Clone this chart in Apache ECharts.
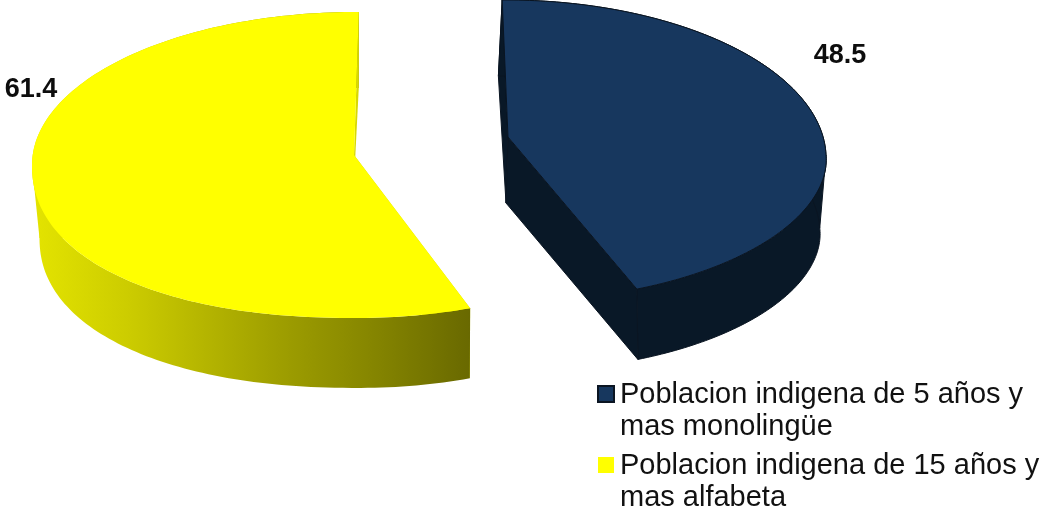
<!DOCTYPE html>
<html>
<head>
<meta charset="utf-8">
<style>html,body{margin:0;padding:0;background:#fff}#c{width:1046px;height:507px}</style>
<script src="https://cdn.jsdelivr.net/npm/echarts@6/dist/echarts.min.js"></script>
</head>
<body>
<div id="c"></div>
<script>
const categories = ['Poblacion indigena de 5 años y\nmas monolingüe', 'Poblacion indigena de 15 años y\nmas alfabeta'];
const values = [48.5, 61.4];
const topColors = ['#17375E', '#FFFF00'];

const total = values.reduce((a, b) => a + b, 0);
const geometry = [
  { cx: 513, rx: 313, cy: 155, ryT: 155, ryB: 145, shearT: 0.045, shearB: 0.1, rot: -0.7, apex: [508, 137], depth: 73, scale: 0.98,
    lowShear: 0.026, lowDx: 0, power: { 1: 1.9 }, wall: '#091827', stroke: '#0A1522', label: [840, 55.5] },
  { cx: 356, rx: 324, cy: 165, ryT: 153, ryB: 153, shearT: 0, shearB: 0, rot: 0.5, apex: [354, 155], depth: 73, scale: 0.98,
    lowShear: 0.0065, lowDx: 1, power: { 2: 2.2 }, wall: '#D9D900', stroke: null, label: [31, 89.5] }
];
const yellowSide = new echarts.graphic.LinearGradient(32, 0, 470, 0, [
  { offset: 0, color: '#E4E400' },
  { offset: 0.22, color: '#CCCC00' },
  { offset: 0.4, color: '#B4B400' },
  { offset: 0.6, color: '#9A9A00' },
  { offset: 0.756, color: '#888800' },
  { offset: 1, color: '#696900' }
], true);

function renderSlice(params, api) {
  const i = params.seriesIndex, g = geometry[i];
  const value = api.value(0);
  const before = values.slice(0, i).reduce((a, b) => a + b, 0);
  const a0 = before / total * 360 + g.rot;
  const a1 = a0 + value / total * 360;
  const rim = (deg) => {
    const t = deg * Math.PI / 180;
    const quadrant = Math.floor((((deg % 360) + 360) % 360) / 90);
    const e = 2 / (g.power[quadrant] || 2);
    const sn = Math.sin(t), cs = Math.cos(t);
    const s = Math.sign(sn) * Math.pow(Math.abs(sn), e), c = Math.sign(cs) * Math.pow(Math.abs(cs), e);
    const y = g.cy - (c > 0 ? g.ryT : g.ryB) * c;
    return [g.cx + g.rx * s + (y < g.cy ? g.shearT : g.shearB) * (y - g.cy), y];
  };
  const low = (p) => [
    g.cx + g.lowDx + (p[0] - g.cx) * g.scale + g.lowShear * (p[1] - g.cy),
    g.cy + g.depth + (p[1] - g.cy) * g.scale
  ];
  const arc = [];
  const steps = 160;
  for (let k = 0; k <= steps; k++) arc.push(rim(a0 + (a1 - a0) * k / steps));
  const lowArc = arc.map(low);
  const apexLow = [g.apex[0] - 2, g.apex[1] + 66];
  const line = g.stroke ? { stroke: g.stroke, lineWidth: 1 } : { lineWidth: 0 };
  const sideFill = i === 1 ? yellowSide : g.wall;
  const face = (pts, fill) => ({ type: 'polygon', shape: { points: pts },
    style: Object.assign({ fill }, line) });
  const children = [face([arc[0], lowArc[0], apexLow, g.apex], g.wall)];
  // bridge the silhouette between upper and lower rim at the horizontal extreme
  [90, 270].forEach((d) => {
    if (d > a0 && d < a1) {
      const top = rim(d), bottom = low(top);
      const inner = [g.cx + (bottom[0] - g.cx) * 0.6, bottom[1]];
      children.push(face([top, bottom, inner], sideFill));
    }
  });
  children.push(
    face(arc.concat(lowArc.slice().reverse()), sideFill),
    face([arc[steps], lowArc[steps], apexLow, g.apex], g.wall),
    face(arc.concat([g.apex]), topColors[i]),
    { type: 'text', style: { text: String(value), x: g.label[0], y: g.label[1], align: 'center', verticalAlign: 'middle',
      font: 'bold 27px "Liberation Sans", Arial, sans-serif', fill: '#0d0d0d' } }
  );
  return { type: 'group', children };
}

const chart = echarts.init(document.getElementById('c'), null, { renderer: 'canvas' });
chart.setOption({
  animation: false,
  backgroundColor: '#ffffff',
  legend: {
    orient: 'vertical', left: 597, top: 379, height: 300, padding: 0, itemGap: 7,
    itemWidth: 17, itemHeight: 50, selectedMode: false,
    data: categories.map((name, i) => ({
      name, icon: 'path://M0 0H16V16H0Z M17 50',
      itemStyle: { color: topColors[i], borderColor: i === 0 ? '#0B1522' : 'transparent', borderWidth: i === 0 ? 2 : 0 }
    })),
    textStyle: { fontFamily: '"Liberation Sans", Arial, sans-serif', fontSize: 29, color: '#111', lineHeight: 32 }
  },
  series: categories.map((name, i) => ({
    type: 'custom', name, coordinateSystem: 'none', renderItem: renderSlice,
    data: [[values[i]]], itemStyle: { color: topColors[i] }, silent: true
  }))
});
</script>
</body>
</html>
